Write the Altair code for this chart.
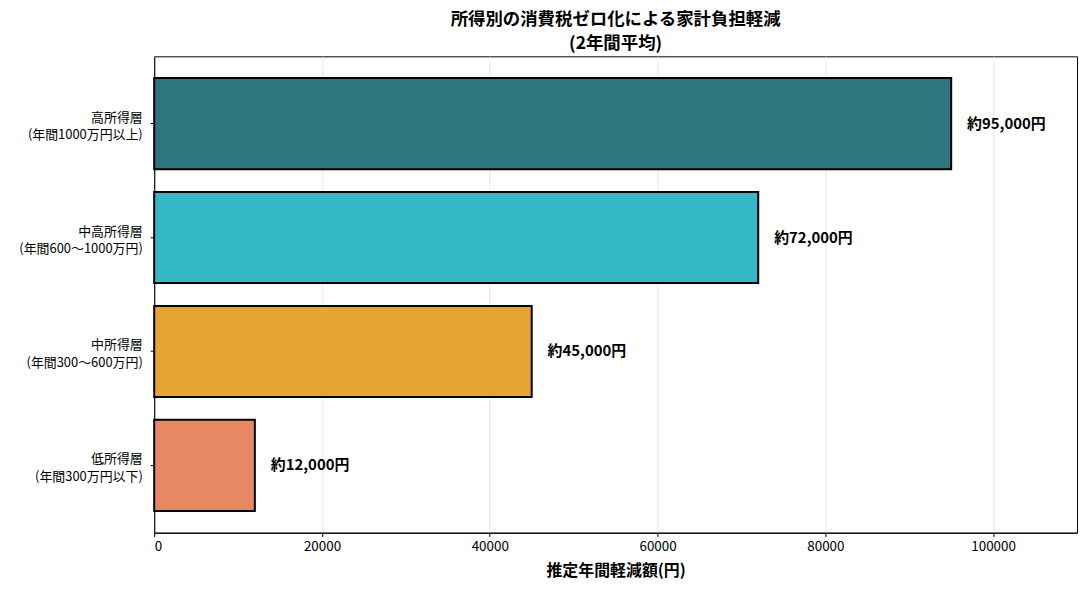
import altair as alt
import pandas as pd

categories = [
    "高所得層\n(年間1000万円以上)",
    "中高所得層\n(年間600～1000万円)",
    "中所得層\n(年間300～600万円)",
    "低所得層\n(年間300万円以下)",
]
values = [95000, 72000, 45000, 12000]
value_labels = ["約95,000円", "約72,000円", "約45,000円", "約12,000円"]
colors = ["#2e7580", "#34b8c7", "#e8a433", "#e88763"]

df = pd.DataFrame({
    "category": categories,
    "value": values,
    "label": value_labels,
})

FONT = "Noto Sans CJK JP"

y_enc = alt.Y(
    "category:N",
    sort=categories,
    title=None,
    scale=alt.Scale(paddingInner=0.2, paddingOuter=0.19),
    axis=alt.Axis(
        labelExpr="split(datum.label, '\\n')",
        labelFont=FONT,
        labelFontSize=13,
        labelColor="#000000",
        labelLineHeight=18,
        labelOffset=-6,
        tickColor="#000000",
        tickSize=4,
        domainColor="#000000",
        grid=False,
        labelPadding=8,
    ),
)

bars = alt.Chart(df).mark_bar(stroke="#000000", strokeWidth=2).encode(
    x=alt.X(
        "value:Q",
        title="推定年間軽減額(円)",
        scale=alt.Scale(domain=[0, 110000], nice=False, zero=True),
        axis=alt.Axis(
            values=[0, 20000, 40000, 60000, 80000, 100000],
            format="d",
            labelFont=FONT,
            labelFontSize=13.5,
            labelColor="#000000",
            labelPadding=3,
            titleFont=FONT,
            titleFontSize=16,
            titleFontWeight="bold",
            titleColor="#000000",
            tickColor="#000000",
            tickSize=4,
            domainColor="#000000",
            gridColor="#e6e6e6",
            gridWidth=1,
            titlePadding=10,
        ),
    ),
    y=y_enc,
    color=alt.Color("category:N", sort=categories,
                    scale=alt.Scale(domain=categories, range=colors),
                    legend=None),
)

texts = alt.Chart(df).mark_text(
    align="left", baseline="middle", dx=16, font=FONT,
    fontSize=15, fontWeight="bold", color="#000000",
).encode(
    x="value:Q",
    y=alt.Y("category:N", sort=categories),
    text="label:N",
)

chart = (bars + texts).properties(
    width=928,
    height=479,
    title=alt.TitleParams(
        text=["所得別の消費税ゼロ化による家計負担軽減", "(2年間平均)"],
        font=FONT,
        fontSize=17.5,
        fontWeight="bold",
        color="#000000",
        anchor="middle",
        offset=4,
        lineHeight=24,
    ),
    autosize=alt.AutoSizeParams(type="none"),
    padding={"left": 147, "top": 47, "right": 5, "bottom": 50},
).configure_view(
    stroke="#000000", strokeWidth=1
)

chart.save("out.html", embed_options={"renderer": "svg", "actions": False})
